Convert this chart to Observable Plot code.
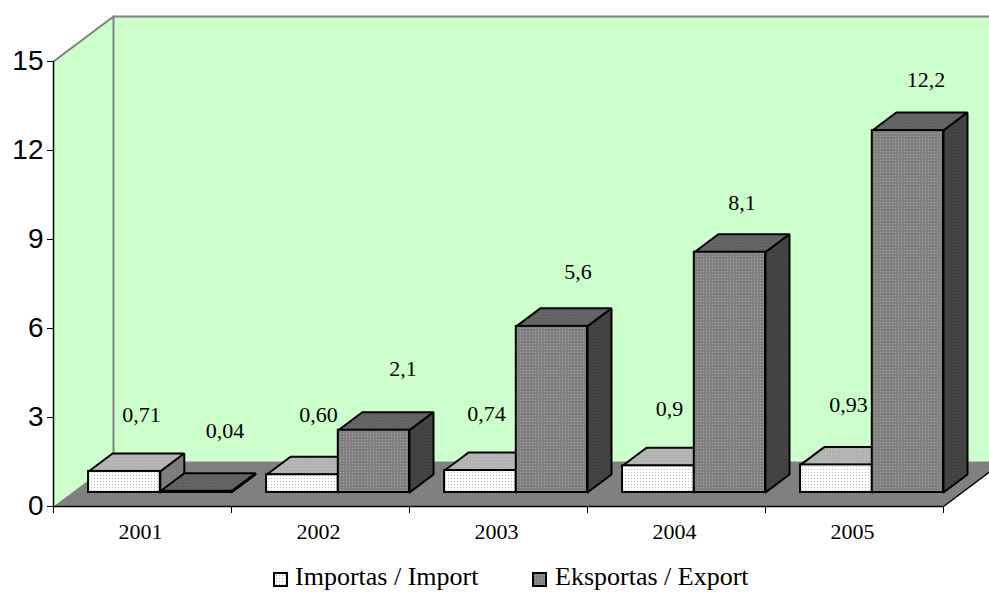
<!DOCTYPE html>
<html>
<head>
<meta charset="utf-8">
<script src="https://cdn.jsdelivr.net/npm/d3@7"></script>
<script src="https://cdn.jsdelivr.net/npm/@observablehq/plot@0.6"></script>
<style>
html,body{margin:0;padding:0;background:#fff;overflow:hidden;}
svg{display:block;}
#legend{position:relative;height:37px;font:26px "Liberation Serif",serif;color:#000;}
#legend span{position:absolute;top:10px;line-height:24px;white-space:nowrap;}
#legend i{position:absolute;top:17px;width:11px;height:11px;border:2px solid #000;background-size:3px 3px;}
</style>
</head>
<body>
<div id="chart"></div>
<div id="legend">
  <i style="left:273px;background-color:#fff;background-image:radial-gradient(circle,#bbb 0.8px,transparent 0.9px)"></i>
  <span style="left:295px">Importas / Import</span>
  <i style="left:532px;background-color:#808080;background-image:radial-gradient(circle,#a8a8a8 0.8px,transparent 0.9px)"></i>
  <span style="left:555px">Eksportas / Export</span>
</div>
<script>
const years = ["2001", "2002", "2003", "2004", "2005"];
const imports = [0.71, 0.60, 0.74, 0.9, 0.93];
const exportsValues = [0.04, 2.1, 5.6, 8.1, 12.2];
const importLabels = ["0,71", "0,60", "0,74", "0,9", "0,93"];
const exportLabels = ["0,04", "2,1", "5,6", "8,1", "12,2"];
const yTicks = [0, 3, 6, 9, 12, 15];

// hand-placed label nudges of the source chart, in pixels from each bar's top centre
const importNudgeX = [17, 16, 6, 11, 12];
const importNudgeY = [56, 60, 57, 57, 60];
const exportNudgeX = [29, 29, 26, 12, 18];
const exportNudgeY = [60, 61, 54, 49, 51];

// pseudo-3D geometry, in scale units
const pxX = 890 / 5, pxY = 445 / 15;
const wallDX = 60 / pxX, wallDY = 45 / pxY;
const barDX = 24 / pxX, barDY = 18 / pxY;
const baseY = 14 / pxY;
const slotImport = [0.197, 0.6], slotExport = [0.6, 1.0];

const bars = (values, labels, slot, nx, ny) => values.map((v, i) => ({
  year: years[i], label: labels[i], x1: i + slot[0], x2: i + slot[1],
  y1: baseY, y2: baseY + v,
  lx: i + (slot[0] + slot[1]) / 2 + nx[i] / pxX,
  ly: baseY + v + ny[i] / pxY
}));
const importBars = bars(imports, importLabels, slotImport, importNudgeX, importNudgeY);
const exportBars = bars(exportsValues, exportLabels, slotExport, exportNudgeX, exportNudgeY);

const topFace = b => [[b.x1, b.y2], [b.x2, b.y2], [b.x2 + barDX, b.y2 + barDY], [b.x1 + barDX, b.y2 + barDY], [b.x1, b.y2]]
  .map(([x, y]) => ({x, y, id: b.year}));
const sideFace = b => [[b.x2, b.y1], [b.x2 + barDX, b.y1 + barDY], [b.x2 + barDX, b.y2 + barDY], [b.x2, b.y2], [b.x2, b.y1]]
  .map(([x, y]) => ({x, y, id: b.year}));
const poly = pts => pts.map(([x, y]) => ({x, y}));

const barStyle = {x: "x", y: "y", z: "id", stroke: "#000", strokeWidth: 2, strokeLinejoin: "miter"};
const barMarks = (list, topFill, sideFill, frontFill) => [
  Plot.line(list.flatMap(topFace), {...barStyle, fill: topFill}),
  Plot.line(list.flatMap(sideFace), {...barStyle, fill: sideFill}),
  Plot.rect(list, {x1: "x1", x2: "x2", y1: "y1", y2: "y2", fill: frontFill, stroke: "#000", strokeWidth: 2})
];

const patterns = [
  ["pImpFront", "#ffffff", "#bdbdbd"],
  ["pImpTop", "#b8b8b8", "#989898"],
  ["pImpSide", "#808080", "#666666"],
  ["pExpFront", "#808080", "#a6a6a6"],
  ["pExpTop", "#606060", "#7a7a7a"],
  ["pExpSide", "#404040", "#585858"]
];
const defs = () => {
  const d = d3.create("svg:defs");
  for (const [id, bg, dot] of patterns) {
    const p = d.append("pattern").attr("id", id).attr("width", 3).attr("height", 3).attr("patternUnits", "userSpaceOnUse");
    p.append("rect").attr("width", 3).attr("height", 3).attr("fill", bg);
    p.append("rect").attr("width", 1).attr("height", 1).attr("x", 1).attr("y", 1).attr("fill", dot);
  }
  return d.node();
};

const wallEnd = 5 + wallDX, wallTop = 15 + wallDY;
const labelStyle = {x: "lx", y: "ly", text: "label", fontFamily: "Liberation Serif", fontSize: 22, fill: "#000"};

const chart = Plot.plot({
  width: 989, height: 555,
  marginLeft: 53, marginRight: 0, marginTop: 16, marginBottom: 49,
  style: {background: "#fff", overflow: "hidden"},
  x: {domain: [0, 5], range: [53, 943]},
  y: {domain: [0, 15], range: [506, 61]},
  marks: [
    defs,
    // left wall + back wall
    Plot.line(poly([[0, 0], [0, 15], [wallDX, wallTop], [wallDX, wallDY], [0, 0]]), {x: "x", y: "y", fill: "#ccffcc", stroke: "none"}),
    Plot.line(poly([[wallDX, wallDY], [wallDX, wallTop], [wallEnd, wallTop], [wallEnd, wallDY], [wallDX, wallDY]]), {x: "x", y: "y", fill: "#ccffcc", stroke: "none"}),
    // floor
    Plot.line(poly([[0, 0], [wallDX, wallDY], [wallEnd, wallDY], [5, 0], [0, 0]]), {x: "x", y: "y", fill: "#808080", stroke: "none"}),
    // wall edges
    Plot.line(poly([[0, 15], [wallDX, wallTop], [wallEnd, wallTop]]), {x: "x", y: "y", stroke: "#808080", strokeWidth: 2}),
    Plot.line(poly([[wallDX, wallTop], [wallDX, wallDY]]), {x: "x", y: "y", stroke: "#808080", strokeWidth: 2}),
    // front floor edge
    Plot.line(poly([[0, 0], [5, 0], [wallEnd, wallDY]]), {x: "x", y: "y", stroke: "#000", strokeWidth: 1.5}),
    Plot.axisY({ticks: yTicks, tickSize: 6, tickPadding: 4, label: null, fontSize: 28, fontFamily: "Liberation Sans", stroke: "#000", strokeWidth: 1, tickFormat: d => d, color: "#000"}),
    Plot.ruleX([0], {y1: 0, y2: 15, stroke: "#000", strokeWidth: 1.5}),
    Plot.axisX({ticks: d3.range(0, 6), tickSize: 7, tickFormat: () => "", label: null, stroke: "#000"}),
    Plot.text(years, {x: (d, i) => i + 0.5, y: () => 0, text: d => d, dx: -2, dy: 25, fontFamily: "Liberation Serif", fontSize: 22, fill: "#000"}),
    ...barMarks(importBars, "url(#pImpTop)", "url(#pImpSide)", "url(#pImpFront)"),
    ...barMarks(exportBars, "url(#pExpTop)", "url(#pExpSide)", "url(#pExpFront)"),
    Plot.text(importBars, labelStyle),
    Plot.text(exportBars, labelStyle)
  ]
});
document.getElementById("chart").append(chart);
</script>
</body>
</html>
